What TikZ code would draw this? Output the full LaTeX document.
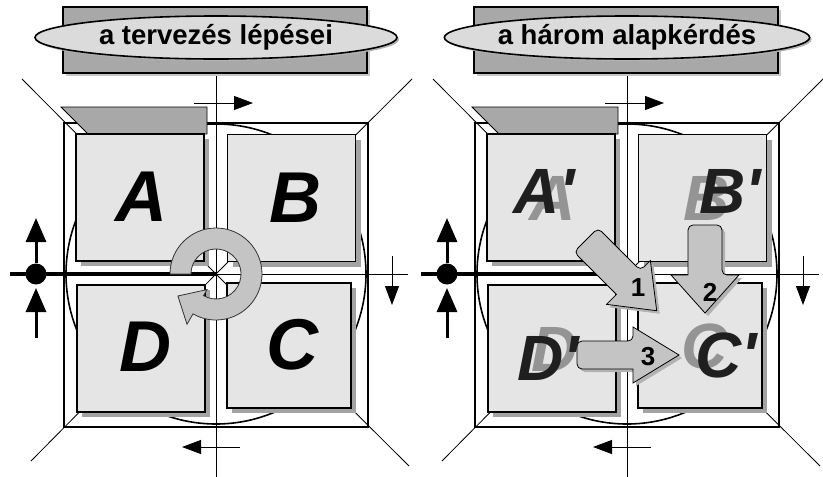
\documentclass[tikz,border=0pt]{standalone}
\usepackage{fontspec}
\setmainfont{Liberation Sans}
\usetikzlibrary{arrows.meta, shapes.geometric, shadows}
\colorlet{tile area}{black!10}
\colorlet{tile shade}{black!36}
\colorlet{plate area}{black!34}
\colorlet{oval area}{black!14}
\colorlet{block area}{black!23}
\colorlet{ghost}{black!42}
\tikzset{
  hair/.style={line width=0.8pt},
  rim/.style={line width=1.8pt},
  tile/.style={rectangle, fill=tile area, draw, line width=1.7pt, inner sep=0pt,
    minimum width=128pt, minimum height=127pt,
    drop shadow={shadow xshift=5pt, shadow yshift=-5pt, fill=tile shade, opacity=1}},
  plate/.style={rectangle, fill=plate area, draw, line width=1.6pt,
    minimum width=304pt, minimum height=66pt,
    drop shadow={shadow xshift=3pt, shadow yshift=-3pt, fill=black!22, opacity=1}},
  oval/.style={ellipse, fill=oval area, draw, line width=1.6pt, inner sep=0pt,
    minimum width=362pt, minimum height=43pt,
    font=\fontsize{27.5}{27.5}\selectfont\bfseries,
    drop shadow={shadow xshift=2pt, shadow yshift=-2pt, fill=black!30, opacity=1}},
  letter/.style={font=\fontsize{72}{72}\selectfont\bfseries\itshape},
  primed/.style={font=\fontsize{64}{64}\selectfont\bfseries\itshape, text=black!88},
  ghosted/.style={font=\fontsize{64}{64}\selectfont\bfseries\itshape, text=ghost},
  stepnum/.style={font=\fontsize{26}{26}\selectfont\bfseries},
  pointer/.style={-{Triangle[length=19pt,width=14pt]}, line width=0.8pt},
  push/.style={-{Triangle[length=24pt,width=20pt]}, line width=3pt},
  block/.style={line width=0.8pt, rounded corners=5pt},
}

% #1 tail, #2 turn, #3 body length, #4 head length, #5 half body, #6 half head
\newcommand{\blockarrow}[6]{%
  \foreach \d/\col/\edge in {3/black!30/none, 0/block area/black} {
    \filldraw[block, fill=\col, draw=\edge, shift={(#1)}, xshift=\d pt, yshift=-\d pt, rotate=#2]
      (#3,#5) -- (0,#5) -- (0,-#5) -- (#3,-#5) [sharp corners] -- (#3,-#6)
      -- ({#3+#4},0) -- (#3,#6) -- cycle;
  }
}

\newcommand{\panelbase}[1]{%
  \coordinate (O) at (216,274);
  % lines behind the tiles
  \foreach \x/\y in {22/79, 412/79, 31/461, 409/466}
    \draw[hair] (\x,\y) -- (O);
  \draw[hair] (216,73) -- (216,477);
  \draw[hair] (O) -- (408,274);
  \draw[line width=4.8pt] (10,274) -- (O);
  \draw[rim] (64,123) rectangle (368,427);
  \draw[line width=1.6pt] (O) circle[radius=150];
  \filldraw[fill=plate area, hair] (61,107) -- (207,107) -- (207,134) -- (88,134) -- cycle;
  % tiles
  \node[tile] (A) at (140,197.5) {};
  \node[tile] (B) at (291.5,198) {};
  \node[tile] (D) at (141,348.5) {};
  \node[tile, minimum width=124pt, minimum height=125pt] (C) at (289,345.5) {};
  % title
  \node[plate] (plate) at (215,40) {};
  \node[oval] (title) at (216,37.5) {#1};
  % side arrows
  \coordinate (t1) at (194,103);  \coordinate (t2) at (253,103);
  \coordinate (b1) at (240,447);  \coordinate (b2) at (182,447);
  \coordinate (r1) at (392,256);  \coordinate (r2) at (392,305);
  \draw[pointer] (t1) -- (t2);
  \draw[pointer] (b1) -- (b2);
  \draw[pointer] (r1) -- (r2);
  \node[circle, fill, inner sep=0pt, minimum size=21pt] (dot) at (36,274) {};
  \coordinate (up) at (36,218);
  \coordinate (low) at (36,338);
  \coordinate (lowtip) at (36,288);
  \draw[push] (dot) -- (up);
  \draw[push] (low) -- (lowtip);
}

\begin{document}
\begin{tikzpicture}[x=1pt, y=-1pt]
  \useasboundingbox (0,0) rectangle (823,477);

  % steps
  \begin{scope}
    \panelbase{a tervezés lépései}
    \node[letter] (la) at (141,197) {A};
    \node[letter] (lb) at (295,198) {B};
    \node[letter] (lc) at (292,345) {C};
    \node[letter] (ld) at (145,347) {D};
    \begin{scope}[shift={(O)}]
      \filldraw[fill=block area, draw=black!80, line width=0.8pt]
        (180:25) -- (180:46) arc[start angle=180, end angle=480, radius=46]
        -- (480:58) -- (510:44) -- (480:18) -- (480:25)
        arc[start angle=480, end angle=180, radius=25] -- cycle;
    \end{scope}
  \end{scope}

  % three questions
  \begin{scope}[xshift=411pt]
    \panelbase{a három alapkérdés}
    \node[ghosted] (ga) at (141.5,198) {A};
    \node[ghosted] (gb) at (296,198.5) {B};
    \node[ghosted] (gc) at (294,346) {C};
    \node[ghosted] (gd) at (144,349) {D};
    \blockarrow{175,240}{-45}{60}{40}{17}{31}
    \blockarrow{294,225}{-90}{50}{38}{17}{34}
    \blockarrow{166,355}{0}{56}{46}{14}{28}
    \node[primed] (pa) at (133,191.5) {A\textquotesingle};
    \node[primed] (pb) at (319,191.5) {B\textquotesingle};
    \node[primed] (pc) at (315,355) {C\textquotesingle};
    \node[primed] (pd) at (137.5,358) {D\textquotesingle};
    \node[stepnum] (n1) at (227,288) {1};
    \node[stepnum] (n2) at (299,292) {2};
    \node[stepnum] (n3) at (237,357) {3};
  \end{scope}
\end{tikzpicture}
\end{document}
